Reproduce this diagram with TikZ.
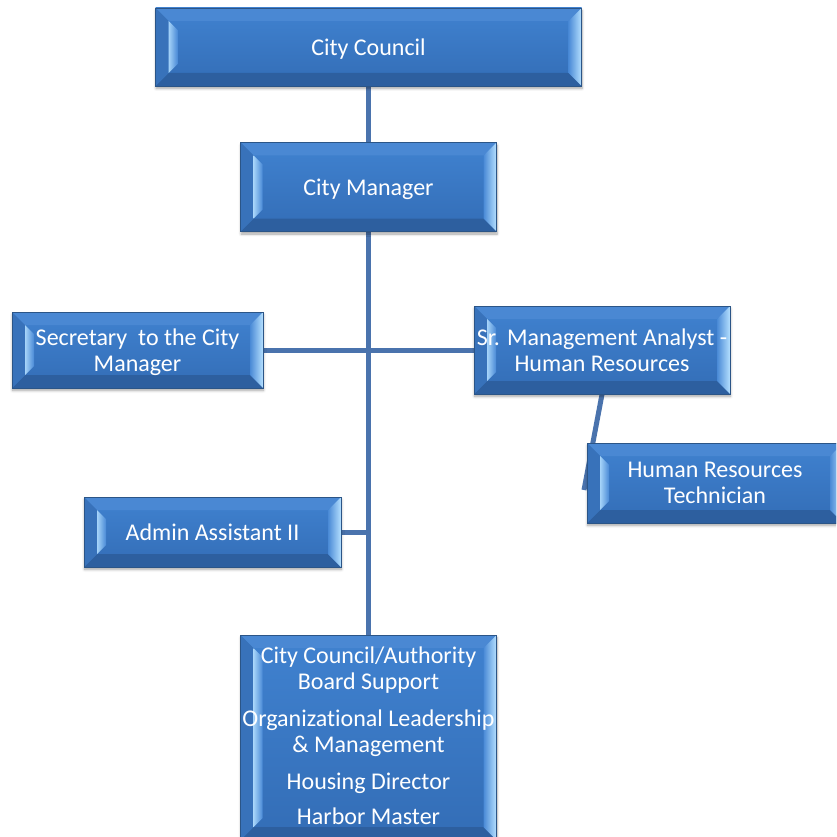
\documentclass[tikz,border=0pt]{standalone}
\usepackage{fontspec}
\setmainfont{Carlito}[Ligatures=NoCommon]
\usetikzlibrary{calc,shadows.blur}

\definecolor{facetop}{HTML}{4082D0}
\definecolor{facebot}{HTML}{336DB6}
\definecolor{boxedge}{HTML}{2B5587}
\definecolor{bevtop}{HTML}{4A88D3}
\definecolor{bevbot}{HTML}{2D5F9F}
\definecolor{bevleft}{HTML}{3872BA}
\definecolor{bevlight}{HTML}{B5E0FF}
\definecolor{bevmid}{HTML}{4A8AD6}
\definecolor{linkblue}{HTML}{4A73AD}

\pgfdeclarelayer{bg}
\pgfsetlayers{bg,main}

\tikzset{
  x=1pt, y=-1pt,
  orgbox/.style={rectangle, inner sep=0pt, draw=boxedge, line width=0.7pt,
    top color=facetop, bottom color=facebot, text=white, align=center,
    font=\fontsize{24}{26.5}\selectfont, text depth=0pt,
    blur shadow={shadow xshift=0.5pt, shadow yshift=-2.5pt,
      shadow blur radius=2.5pt, shadow blur steps=6, shadow opacity=35},
    path picture={
      \coordinate (bvsw) at (path picture bounding box.south west);
      \coordinate (bvne) at (path picture bounding box.north east);
      \coordinate (bvnw) at (bvsw |- bvne);
      \coordinate (bvse) at (bvsw -| bvne);
      % top and bottom faces of the bevel
      \fill[bevtop] (bvnw) -- (bvne) -- ($(bvne)+(-13pt,-13pt)$) -- ($(bvnw)+(13pt,-13pt)$) -- cycle;
      \fill[bevbot] (bvsw) -- (bvse) -- ($(bvse)+(-13pt,13pt)$) -- ($(bvsw)+(13pt,13pt)$) -- cycle;
      % left face
      \fill[bevleft] (bvsw) -- (bvnw) -- ($(bvnw)+(13pt,-13pt)$) -- ($(bvsw)+(13pt,13pt)$) -- cycle;
      % lit right face
      \shade[left color=bevmid, right color=bevlight]
        (bvse) -- (bvne) -- ($(bvne)+(-13pt,-13pt)$) -- ($(bvse)+(-13pt,13pt)$) -- cycle;
      % highlight strip along the inner left edge
      \shade[left color=bevlight!85!bevmid, right color=bevmid]
        ($(bvnw)+(13pt,-13pt)$) -- ($(bvnw)+(22pt,-22pt)$)
        -- ($(bvsw)+(22pt,22pt)$) -- ($(bvsw)+(13pt,13pt)$) -- cycle;
    }},
  link/.style={draw=linkblue, line width=5pt}
}

\begin{document}
\begin{tikzpicture}
\useasboundingbox (0,0) rectangle (836,837);
\clip (0,0) rectangle (836,837);

% positions
\node[orgbox, minimum width=426pt, minimum height=78pt] (council) at (368.5,47) {City Council};
\node[orgbox, minimum width=256pt, minimum height=89pt] (manager) at (368.5,187) {City Manager};
\node[orgbox, minimum width=251pt, minimum height=76pt] (secretary) at (137.5,350)
  {Secretary\ \ to the City\\Manager};
\node[orgbox, minimum width=256pt, minimum height=88pt] (analyst) at (602,350)
  {Sr. Management Analyst -\\Human Resources};
\node[orgbox, minimum width=256pt, minimum height=80pt] (hrtech) at (715,483)
  {Human Resources\\Technician};
\node[orgbox, minimum width=257pt, minimum height=70pt] (admin) at (212.5,532) {Admin Assistant II};
\node[orgbox, minimum width=256pt, minimum height=205pt, text depth=4pt] (support) at (368.5,737.5)
  {City Council/Authority\\Board Support\\[10pt]Organizational Leadership\\\& Management\\[10pt]Housing Director\\[9pt]Harbor Master};

\coordinate (hrfoot) at (584,490);

% reporting lines, kept behind the boxes
\begin{pgfonlayer}{bg}
\draw[link] (council.south) -- (manager.north);
\draw[link] (manager.south) -- (support.north);
\draw[link] (secretary.east) -- (analyst.west);
\draw[link] (admin.east) -- (admin.east -| manager.south);
\draw[link] (analyst.south) -- (hrfoot);
\end{pgfonlayer}
\end{tikzpicture}
\end{document}
